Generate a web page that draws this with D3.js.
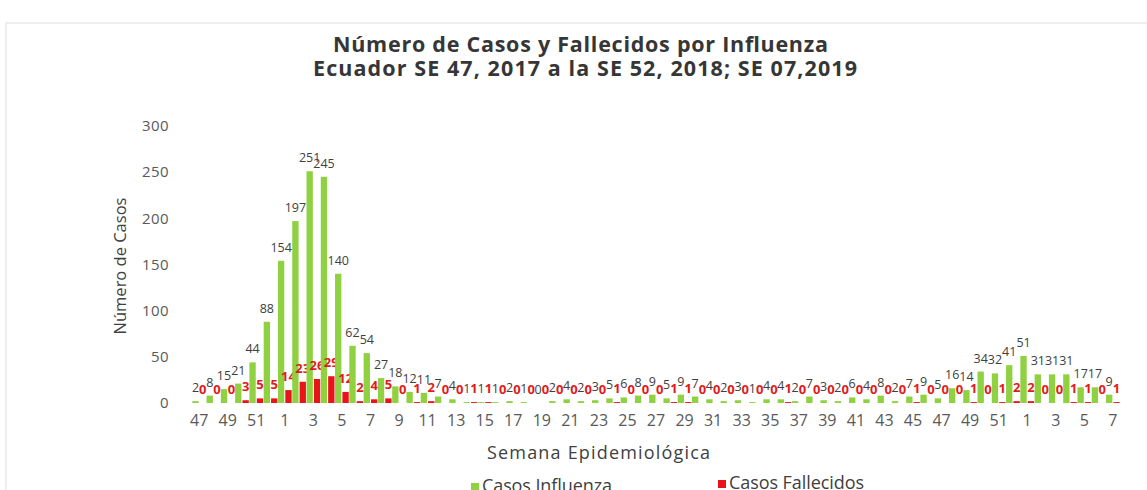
<!DOCTYPE html>
<html>
<head>
<meta charset="utf-8">
<script src="https://cdn.jsdelivr.net/npm/d3@7"></script>
<style>
  body { margin: 0; background: #fff; }
  text { font-family: "Open Sans", Lato, sans-serif; }
  .axis text { fill: #595959; }
  .title { font-weight: bold; font-size: 21.5px; fill: #363636; }
  .lbl-casos { font-size: 12.5px; fill: #404040; }
  .lbl-fall { font-size: 13px; font-weight: bold; fill: #e41a1a; }
</style>
</head>
<body>
<svg class="chart"></svg>
<script>
// semanas epidemiologicas (SE 47 2017 ... SE 52 2018, SE 1 ... 7 2019)
var weeks = [47, 48, 49, 50, 51, 52,
  1, 2, 3, 4, 5, 6, 7, 8, 9, 10, 11, 12, 13, 14, 15, 16, 17, 18, 19, 20, 21, 22, 23, 24, 25, 26,
  27, 28, 29, 30, 31, 32, 33, 34, 35, 36, 37, 38, 39, 40, 41, 42, 43, 44, 45, 46, 47, 48, 49, 50, 51, 52,
  1, 2, 3, 4, 5, 6, 7];

// casos influenza
var casos = [2, 8, 15, 21, 44, 88,
  154, 197, 251, 245, 140, 62, 54, 27, 18, 12, 11, 7, 4, 1, 1, 1, 2, 1, 0, 2, 4, 2, 3, 5, 6, 8,
  9, 5, 9, 7, 4, 2, 3, 1, 4, 4, 2, 7, 3, 2, 6, 4, 8, 2, 7, 9, 5, 16, 14, 34, 32, 41,
  51, 31, 31, 31, 17, 17, 9];

// casos fallecidos
var fallecidos = [0, 0, 0, 3, 5, 5,
  14, 23, 26, 29, 12, 2, 4, 5, 0, 1, 2, 0, 0, 1, 1, 0, 0, 0, 0, 0, 0, 0, 0, 1, 0, 0,
  0, 1, 1, 0, 0, 0, 0, 0, 0, 1, 0, 0, 0, 0, 0, 0, 0, 0, 1, 0, 0, 0, 1, 0, 1, 2,
  2, 0, 0, 1, 1, 0, 1];

var yTicks = [0, 50, 100, 150, 200, 250, 300];
var series = ["casos", "fallecidos"];
var seriesNames = ["Casos Influenza", "Casos Fallecidos"];
var colors = {casos: "#8fd140", fallecidos: "#e8141a"};

var width = 1147, height = 490;

var svg = d3.select(".chart")
  .attr("width", width)
  .attr("height", height);

// faint frame of the scanned chart
svg.append("rect")
  .attr("x", 6).attr("y", 23)
  .attr("width", 1160).attr("height", 500)
  .attr("fill", "none")
  .attr("stroke", "#dedede");

// title
svg.append("text").attr("class", "title")
  .attr("x", 333).attr("y", 52)
  .attr("textLength", 495)
  .attr("lengthAdjust", "spacing")
  .text("Número de Casos y Fallecidos por Influenza");
svg.append("text").attr("class", "title")
  .attr("x", 313).attr("y", 76)
  .attr("textLength", 544)
  .attr("lengthAdjust", "spacing")
  .text("Ecuador  SE 47, 2017 a la SE 52, 2018; SE 07,2019");

var data = weeks.map(function(w, i) {
  return {i: i, week: w, casos: casos[i], fallecidos: fallecidos[i]};
});

// scales
var x0 = d3.scaleBand()
  .domain(d3.range(weeks.length))
  .range([192, 1120])
  .paddingInner(0.04)
  .paddingOuter(0.02);

var x1 = d3.scaleBand()
  .domain(series)
  .range([0, x0.bandwidth()])
  .paddingInner(0.14);

var y = d3.scaleLinear()
  .domain([0, 300])
  .range([403, 126]);

// y axis
var yAxis = svg.append("g")
  .attr("class", "axis")
  .attr("transform", "translate(171,0)")
  .call(d3.axisLeft(y).tickValues(yTicks).tickSize(0).tickPadding(2));
yAxis.select(".domain").remove();
yAxis.selectAll("text")
  .style("font-size", "15px")
  .style("letter-spacing", "0.4px")
  .style("font-family", "'Open Sans', sans-serif");

// x axis
var xAxis = svg.append("g")
  .attr("class", "axis")
  .attr("transform", "translate(0,410)")
  .call(d3.axisBottom(x0)
    .tickValues(d3.range(0, weeks.length, 2))
    .tickFormat(function(i) { return weeks[i]; })
    .tickSize(0).tickPadding(5));
xAxis.select(".domain").remove();
xAxis.selectAll("text")
  .style("font-size", "16px")
  .style("font-family", "'Open Sans', sans-serif");

// axis titles
svg.append("text")
  .attr("transform", "rotate(-90)")
  .attr("x", -266).attr("y", 126)
  .style("text-anchor", "middle")
  .style("font-size", "16.5px")
  .style("fill", "#404040")
  .text("Número de Casos");

svg.append("text")
  .attr("x", 487).attr("y", 459)
  .attr("textLength", 223)
  .attr("lengthAdjust", "spacing")
  .style("font-size", "18px")
  .style("fill", "#404040")
  .text("Semana Epidemiológica");

// bars
var groups = svg.selectAll(".grp")
  .data(data)
  .enter().append("g")
  .attr("class", "grp")
  .attr("transform", function(d) { return "translate(" + x0(d.i) + ",0)"; });

groups.selectAll("rect")
  .data(function(d) { return series.map(function(k) { return {key: k, value: d[k]}; }); })
  .enter().append("rect")
  .attr("x", function(d) { return x1(d.key); })
  .attr("width", x1.bandwidth())
  .attr("y", function(d) { return y(d.value); })
  .attr("height", function(d) { return y(0) - y(d.value); })
  .attr("fill", function(d) { return colors[d.key]; });

// value labels
groups.selectAll(".lbl")
  .data(function(d) { return series.map(function(k) { return {key: k, value: d[k]}; }); })
  .enter().append("text")
  .attr("class", function(d) { return d.key === "casos" ? "lbl-casos" : "lbl-fall"; })
  .attr("x", function(d) { return x1(d.key) + x1.bandwidth() / 2; })
  .attr("y", function(d) { return y(d.value) - 9; })
  .style("text-anchor", "middle")
  .text(function(d) { return d.value; });

// legend
var legendX = [471, 718], legendY = [492, 489], legendW = [130, 135];

var legend = svg.selectAll(".legend")
  .data(series)
  .enter().append("g")
  .attr("class", "legend")
  .attr("transform", function(d, i) { return "translate(" + legendX[i] + "," + legendY[i] + ")"; });

legend.append("rect")
  .attr("x", 0).attr("y", -9)
  .attr("width", 8).attr("height", 8)
  .attr("fill", function(d) { return colors[d]; });

legend.append("text")
  .attr("x", 11).attr("y", 0)
  .attr("textLength", function(d, i) { return legendW[i]; })
  .attr("lengthAdjust", "spacing")
  .style("font-size", "18px")
  .style("fill", "#404040")
  .text(function(d, i) { return seriesNames[i]; });
</script>
</body>
</html>
